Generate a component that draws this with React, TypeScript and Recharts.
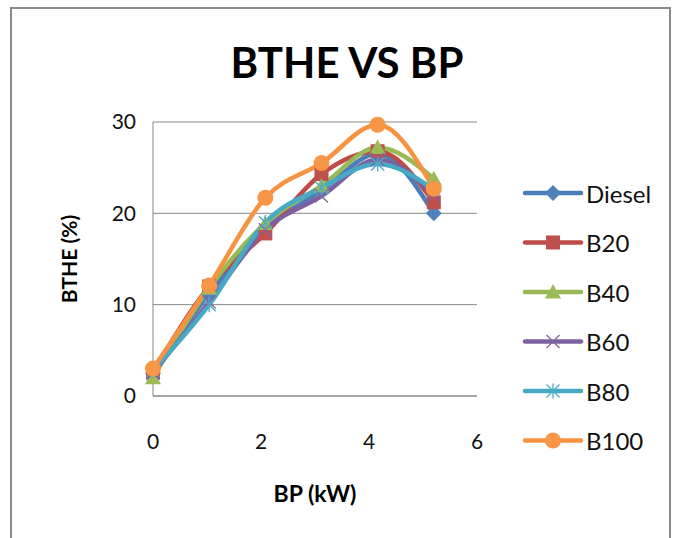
import React from 'react';
import { LineChart, Line, XAxis, YAxis, CartesianGrid } from 'recharts';

// Brake power (kW) at each load step
const BP = [0, 1.04, 2.08, 3.12, 4.16, 5.2];

// Brake thermal efficiency (%) per fuel blend
const DIESEL = [2.5, 11.2, 18.3, 22.5, 26.5, 20.0];
const B20 = [2.6, 12.0, 17.8, 24.3, 26.8, 21.2];
const B40 = [2.0, 11.8, 18.9, 23.0, 27.2, 23.8];
const B60 = [2.5, 10.3, 18.2, 21.9, 25.9, 22.0];
const B80 = [2.8, 10.0, 19.0, 22.8, 25.4, 22.6];
const B100 = [3.0, 12.1, 21.7, 25.5, 29.7, 22.7];

const X_TICKS = [0, 2, 4, 6];
const Y_TICKS = [0, 10, 20, 30];

type MarkerKind = 'diamond' | 'square' | 'triangle' | 'cross' | 'star' | 'circle';

interface SeriesDef {
  name: string;
  values: number[];
  line: string;
  fill: string;
  marker: MarkerKind;
}

const SERIES: SeriesDef[] = [
  { name: 'Diesel', values: DIESEL, line: '#4A7EBB', fill: '#4F81BD', marker: 'diamond' },
  { name: 'B20', values: B20, line: '#BE4B48', fill: '#C0504D', marker: 'square' },
  { name: 'B40', values: B40, line: '#98B954', fill: '#9BBB59', marker: 'triangle' },
  { name: 'B60', values: B60, line: '#7D60A0', fill: '#8064A2', marker: 'cross' },
  { name: 'B80', values: B80, line: '#46AAC5', fill: '#4BACC6', marker: 'star' },
  { name: 'B100', values: B100, line: '#F69240', fill: '#F79646', marker: 'circle' },
];

const rows = BP.map((bp, i) => {
  const row: Record<string, number> = { bp };
  SERIES.forEach((s) => {
    row[s.name] = s.values[i];
  });
  return row;
});

const FONT = 'Lato, "Open Sans", sans-serif';
const GRID = '#868686';

// ── markers ──

function Marker({ kind, cx, cy, color }: { kind: MarkerKind; cx: number; cy: number; color: string }) {
  switch (kind) {
    case 'diamond':
      return <polygon points={`${cx},${cy - 8} ${cx + 8},${cy} ${cx},${cy + 8} ${cx - 8},${cy}`} fill={color} />;
    case 'square':
      return <rect x={cx - 7} y={cy - 7} width={14} height={14} fill={color} />;
    case 'triangle':
      return <polygon points={`${cx},${cy - 8} ${cx + 8},${cy + 6.5} ${cx - 8},${cy + 6.5}`} fill={color} />;
    case 'cross':
      return (
        <g stroke={color} strokeWidth={1.3}>
          <line x1={cx - 6.5} y1={cy - 6.5} x2={cx + 6.5} y2={cy + 6.5} />
          <line x1={cx - 6.5} y1={cy + 6.5} x2={cx + 6.5} y2={cy - 6.5} />
        </g>
      );
    case 'star':
      return (
        <g stroke={color} strokeWidth={1.3}>
          <line x1={cx - 6.5} y1={cy - 6.5} x2={cx + 6.5} y2={cy + 6.5} />
          <line x1={cx - 6.5} y1={cy + 6.5} x2={cx + 6.5} y2={cy - 6.5} />
          <line x1={cx} y1={cy - 7.5} x2={cx} y2={cy + 7.5} />
        </g>
      );
    default:
      return <circle cx={cx} cy={cy} r={8} fill={color} />;
  }
}

// ── legend (drawn beside the plot) ──

function LegendBox() {
  return (
    <svg
      width={160}
      height={300}
      style={{ position: 'absolute', left: 510, top: 160, overflow: 'visible' }}
    >
      {SERIES.map((s, i) => {
        const y = 24 + i * 49.5;
        return (
          <g key={s.name}>
            <line x1={3} y1={y} x2={59} y2={y} stroke={s.line} strokeWidth={4.5} strokeLinecap="round" />
            <Marker kind={s.marker} cx={31} cy={y} color={s.fill} />
            <text x={64} y={y} dominantBaseline="central" fontFamily={FONT} fontSize={24} fill="#111">
              {s.name}
            </text>
          </g>
        );
      })}
    </svg>
  );
}

export default function App() {
  return (
    <div
      style={{
        position: 'absolute',
        left: 10,
        top: 7,
        width: 661,
        height: 545,
        boxSizing: 'border-box',
        border: '2px solid #8a8a8a',
        background: '#fff',
      }}
    >
      <svg width={657} height={90} style={{ position: 'absolute', left: 0, top: 0 }}>
        <text x={335} y={69} textAnchor="middle" fontFamily={FONT} fontWeight={700} fontSize={42} fill="#000">
          BTHE VS BP
        </text>
      </svg>

      <LineChart width={656} height={530} data={rows} margin={{ top: 113, right: 191, bottom: 113, left: 101 }}>
        <CartesianGrid vertical={false} stroke={GRID} strokeWidth={1} />
        <XAxis
          type="number"
          dataKey="bp"
          domain={[0, 6]}
          ticks={X_TICKS}
          height={30}
          tickLine={false}
          tickSize={0}
          tickMargin={38}
          axisLine={{ stroke: GRID }}
          tick={{ fontFamily: FONT, fontSize: 21, fill: '#111' }}
          label={({ viewBox }: any) => (
            <text
              x={viewBox.x + viewBox.width / 2}
              y={viewBox.y + 97}
              textAnchor="middle"
              dominantBaseline="central"
              fontFamily={FONT}
              fontWeight={700}
              fontSize={23}
              fill="#000"
            >
              BP (kW)
            </text>
          )}
        />
        <YAxis
          type="number"
          domain={[0, 30]}
          ticks={Y_TICKS}
          width={40}
          tickLine={false}
          tickSize={0}
          tickMargin={17}
          axisLine={{ stroke: GRID }}
          tick={{ fontFamily: FONT, fontSize: 21, fill: '#111' }}
          label={({ viewBox }: any) => {
            const x = viewBox.x - 45;
            const y = viewBox.y + viewBox.height / 2;
            return (
              <text
                x={x}
                y={y}
                transform={`rotate(-90, ${x}, ${y})`}
                textAnchor="middle"
                dominantBaseline="central"
                fontFamily={FONT}
                fontWeight={700}
                fontSize={21}
                fill="#000"
              >
                BTHE (%)
              </text>
            );
          }}
        />
        {SERIES.map((s) => (
          <Line
            key={s.name}
            type="monotone"
            dataKey={s.name}
            stroke={s.line}
            strokeWidth={4.5}
            isAnimationActive={false}
            activeDot={false}
            dot={(p: any) => (
              <Marker key={`${s.name}-${p.index}`} kind={s.marker} cx={p.cx} cy={p.cy} color={s.fill} />
            )}
          />
        ))}
      </LineChart>

      <LegendBox />
    </div>
  );
}
